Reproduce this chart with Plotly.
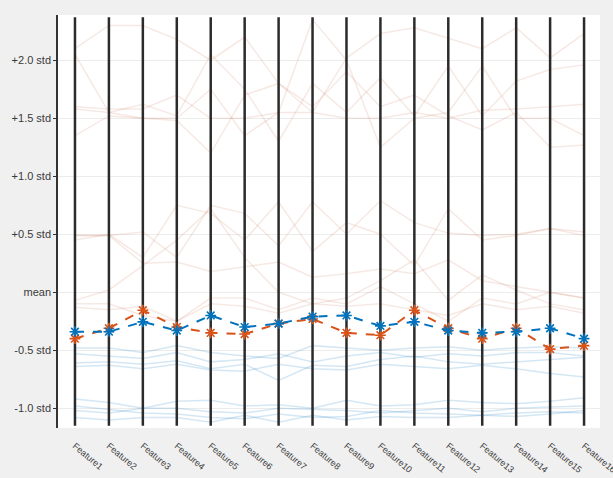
import plotly.graph_objects as go

features = [f"Feature{i}" for i in range(1, 17)]

# standardized observations, class A (orange)
class_a = [
    [2.10, 2.30, 2.30, 2.18, 2.00, 2.20, 1.80, 1.55, 2.02, 2.23, 2.28, 2.19, 2.10, 2.28, 2.02, 2.23],
    [2.05, 1.55, 1.50, 1.50, 1.75, 1.35, 1.55, 2.35, 2.00, 1.25, 1.50, 1.55, 1.95, 1.50, 1.50, 1.35],
    [1.60, 1.58, 1.58, 1.70, 1.50, 1.50, 1.55, 1.55, 1.50, 1.50, 1.55, 1.50, 1.57, 1.58, 1.60, 1.62],
    [1.35, 1.52, 1.50, 1.48, 1.20, 1.70, 1.80, 1.60, 1.90, 1.60, 1.70, 1.52, 1.40, 1.55, 1.25, 1.27],
    [1.58, 1.55, 1.62, 1.52, 2.05, 1.75, 1.30, 1.80, 1.55, 1.85, 1.52, 1.95, 1.52, 1.82, 1.92, 1.96],
    [0.49, 0.49, 0.25, 0.26, 0.18, 0.22, 0.26, 0.13, 0.16, 0.20, 0.16, 0.28, 0.10, 0.05, 0.00, -0.05],
    [0.49, 0.49, 0.52, 0.30, 0.75, 0.68, 0.40, 0.78, 0.50, 0.79, 0.60, 0.51, 0.49, 0.50, 0.55, 0.49],
    [0.45, 0.50, 0.30, 0.75, 0.68, 0.45, 0.78, 0.35, 0.60, 0.50, 0.23, 0.72, 0.45, 0.49, 0.55, 0.52],
    [-0.07, 0.02, 0.23, 0.45, 0.72, 0.30, 0.00, -0.10, -0.05, 0.10, 0.28, -0.07, 0.15, 0.02, -0.10, -0.15],
    [-0.13, -0.15, -0.12, -0.25, -0.10, -0.12, -0.18, -0.10, -0.12, -0.10, -0.15, -0.20, -0.10, -0.15, -0.12, -0.18],
    [-0.10, -0.10, -0.20, -0.25, -0.05, -0.05, -0.15, -0.05, -0.10, 0.05, -0.10, -0.25, -0.05, -0.10, 0.00, -0.05],
]

# standardized observations, class B (blue)
class_b = [
    [-0.48, -0.48, -0.52, -0.46, -0.52, -0.55, -0.57, -0.46, -0.48, -0.50, -0.48, -0.47, -0.50, -0.48, -0.47, -0.48],
    [-0.53, -0.55, -0.57, -0.52, -0.60, -0.58, -0.53, -0.60, -0.55, -0.52, -0.56, -0.53, -0.55, -0.52, -0.52, -0.55],
    [-0.61, -0.60, -0.62, -0.59, -0.66, -0.62, -0.76, -0.63, -0.64, -0.58, -0.55, -0.60, -0.62, -0.60, -0.58, -0.56],
    [-0.64, -0.63, -0.66, -0.62, -0.67, -0.68, -0.62, -0.66, -0.67, -0.62, -0.64, -0.66, -0.63, -0.66, -0.70, -0.73],
    [-0.92, -0.95, -1.00, -0.94, -0.93, -0.98, -0.97, -1.00, -0.93, -0.98, -0.97, -0.93, -0.95, -0.96, -0.94, -0.91],
    [-1.02, -1.04, -1.00, -1.00, -1.03, -1.04, -1.00, -1.01, -1.02, -1.04, -1.02, -1.00, -1.03, -1.00, -0.99, -0.98],
    [-1.08, -1.10, -1.08, -1.08, -1.12, -1.06, -1.12, -1.06, -1.10, -1.07, -1.08, -1.08, -1.06, -1.07, -1.05, -1.02],
    [-0.98, -1.01, -1.04, -1.05, -1.08, -1.09, -1.05, -1.08, -1.07, -1.02, -1.04, -1.05, -1.06, -1.04, -1.03, -1.04],
]

# group summary lines
summary_a = [-0.40, -0.31, -0.155, -0.30, -0.35, -0.36, -0.27, -0.23, -0.35, -0.37, -0.155, -0.31, -0.40, -0.31, -0.49, -0.46]
summary_b = [-0.34, -0.34, -0.255, -0.33, -0.20, -0.30, -0.27, -0.21, -0.20, -0.29, -0.255, -0.33, -0.35, -0.34, -0.31, -0.40]

y_ticks = [-1.0, -0.5, 0.0, 0.5, 1.0, 1.5, 2.0]
y_tick_labels = ["-1.0 std", "-0.5 std", "mean", "+0.5 std", "+1.0 std", "+1.5 std", "+2.0 std"]

ORANGE = "#D95319"
BLUE = "#0072BD"

xpos = list(range(1, len(features) + 1))
fig = go.Figure()

for row in class_a:
    fig.add_trace(go.Scatter(x=xpos, y=row, mode="lines",
                             line=dict(color="rgba(200,120,90,0.16)", width=1.5),
                             showlegend=False, hoverinfo="skip"))
for row in class_b:
    fig.add_trace(go.Scatter(x=xpos, y=row, mode="lines",
                             line=dict(color="rgba(0,114,189,0.17)", width=1.5),
                             showlegend=False, hoverinfo="skip"))

# vertical coordinate axes
y_lo, y_hi = -1.15, 2.37
vx, vy = [], []
for p in xpos:
    vx += [p, p, None]
    vy += [y_lo, y_hi, None]
fig.add_trace(go.Scatter(x=vx, y=vy, mode="lines",
                         line=dict(color="#2b2b2b", width=2.5),
                         showlegend=False, hoverinfo="skip"))

for vals, col in ((summary_a, ORANGE), (summary_b, BLUE)):
    fig.add_trace(go.Scatter(x=xpos, y=vals, mode="lines+markers",
                             line=dict(color=col, width=2, dash="dash"),
                             marker=dict(symbol="asterisk-open", size=9,
                                         line=dict(color=col, width=1.6)),
                             showlegend=False))

fig.update_layout(
    width=613, height=478,
    margin=dict(l=58, r=13, t=15, b=50, autoexpand=False),
    paper_bgcolor="#f0f0f0",
    plot_bgcolor="white",
    font=dict(family="Liberation Sans, Arial, sans-serif", color="#3a3a3a"),
    xaxis=dict(range=[0.5, 16.47], tickvals=xpos, ticktext=features,
               tickangle=40, tickfont=dict(size=9), showgrid=False,
               zeroline=False, showline=False, ticks="", ticklabelstandoff=10,
               ticklabeloverflow="allow", automargin=False),
    yaxis=dict(range=[-1.17, 2.39], tickvals=y_ticks, ticktext=y_tick_labels,
               tickfont=dict(size=11), showgrid=True, gridcolor="#ececec",
               gridwidth=1, zeroline=False, showline=True, linecolor="#333333",
               linewidth=1.5, ticks="outside", ticklen=3, tickcolor="#333333",
               automargin=False),
)

fig.write_html("out.html")
